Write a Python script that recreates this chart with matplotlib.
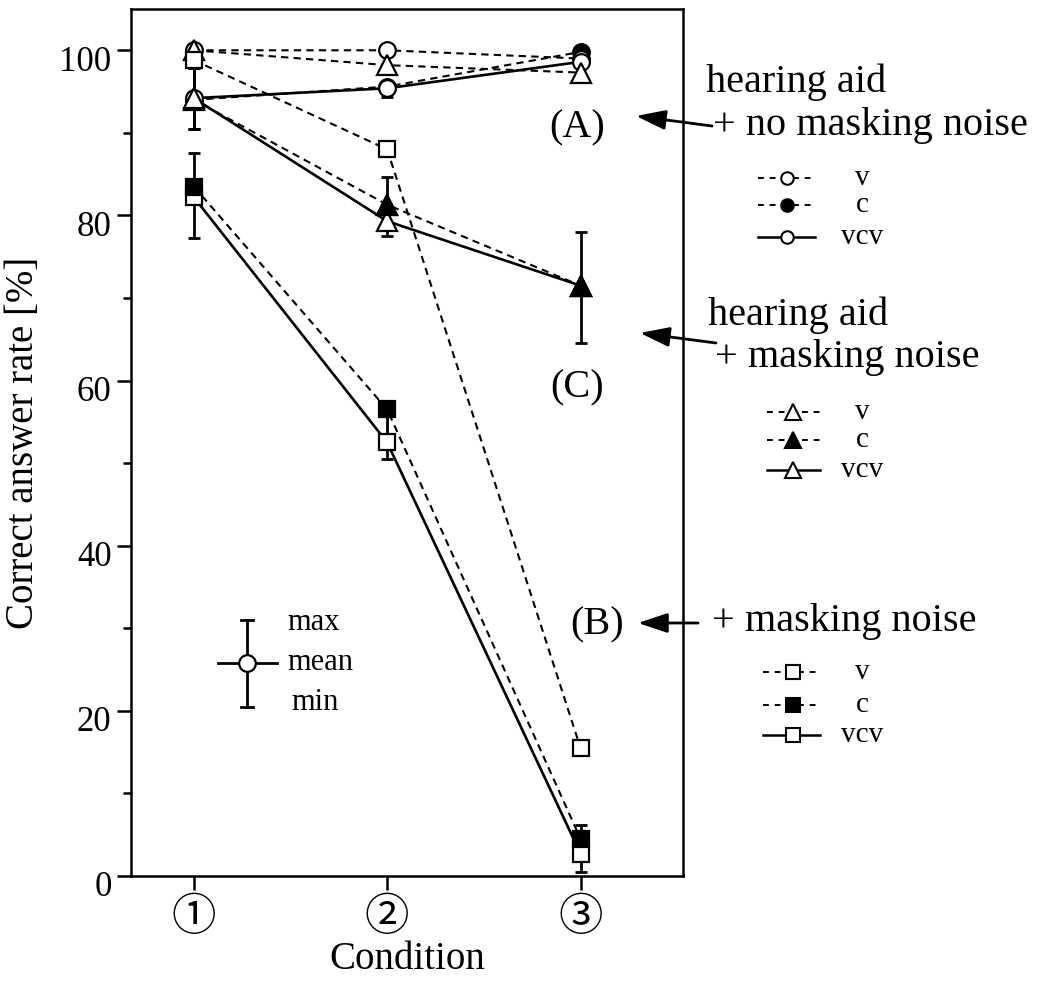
import numpy as np
import matplotlib
matplotlib.use("Agg")
import matplotlib.pyplot as plt
from matplotlib.lines import Line2D
from matplotlib.transforms import ScaledTranslation

plt.rcParams['font.family'] = ['Liberation Serif', 'DejaVu Sans', 'Noto Sans CJK JP']

conditions = [1, 2, 3]
cond_labels = ['①', '②', '③']

# (A) hearing aid + no masking noise
a_v = [100.0, 100.0, 99.0]
a_c = [94.0, 95.6, 99.8]
a_vcv = [94.2, 95.4, 98.6]
a_vcv_min = [90.5, 94.3, 98.0]
a_vcv_max = [97.8, 96.0, 99.2]

# (C) hearing aid + masking noise
c_v = [100.0, 98.2, 97.3]
c_c = [94.0, 81.3, 71.5]
c_vcv = [94.2, 79.3, 71.5]
c_vcv_min = [90.5, 77.5, 64.6]
c_vcv_max = [97.8, 84.7, 78.0]

# (B) + masking noise
b_v = [98.8, 88.0, 15.5]
b_c = [83.5, 56.5, 4.5]
b_vcv = [82.2, 52.5, 2.7]
b_vcv_min = [77.3, 50.5, 0.5]
b_vcv_max = [87.6, 57.0, 6.2]

W, H, DPI = 1047, 981, 100
fig = plt.figure(figsize=(W / DPI, H / DPI), dpi=DPI)
ax = fig.add_axes([131 / W, 1 - 876 / H, 552 / W, 867 / H])


def px(x, y):
    # figure pixel position (origin top-left) -> figure fraction
    return x / W, 1 - y / H


DASH = (3.5, 2.5)
msize = {'o': 12, '^': 15, 's': 11}

# error bars (vcv: min / max)
for mean, lo, hi in [(a_vcv, a_vcv_min, a_vcv_max),
                     (c_vcv, c_vcv_min, c_vcv_max),
                     (b_vcv, b_vcv_min, b_vcv_max)]:
    mean = np.array(mean)
    yerr = [mean - np.array(lo), np.array(hi) - mean]
    ax.errorbar(conditions, mean, yerr=yerr, fmt='none', ecolor='black',
                elinewidth=2.0, capsize=4.5, capthick=2.0, zorder=2)

# connecting lines
for vals in [a_v, a_c, c_v, c_c, b_v, b_c]:
    ax.plot(conditions, vals, color='black', lw=1.5, dashes=DASH, zorder=3)
for vals in [a_vcv, c_vcv, b_vcv]:
    ax.plot(conditions, vals, color='black', lw=1.9, zorder=3)

# markers, stacked so the filled squares/triangles sit on top where they meet
layers = [
    (a_c, 'o', 'black', None),
    (c_c, '^', 'black', None),
    (a_v, 'o', 'white', None),
    (a_vcv, 'o', 'white', None),
    (c_v, '^', 'white', None),
    (c_vcv, '^', 'white', None),
    (b_v, 's', 'white', None),
    (b_vcv, 's', 'white', None),
    (b_c, 's', 'black', None),
    (c_c, '^', 'black', [1, 2]),
]
for i, (vals, m, face, every) in enumerate(layers):
    ax.plot(conditions, vals, ls='none', marker=m, ms=msize[m], markevery=every,
            mfc=face, mec='black', mew=1.6, zorder=4 + i * 0.01)

ax.set_xlim(0.675, 3.53)
ax.set_ylim(0, 105)
ax.set_xticks(conditions)
ax.set_xticklabels(cond_labels, fontsize=32, family=['Noto Sans CJK JP', 'DejaVu Sans'])
ax.set_yticks([0, 20, 40, 60, 80, 100])
ax.set_yticks([10, 30, 50, 70, 90], minor=True)
ax.tick_params(axis='y', which='major', length=10, width=1.8, labelsize=25, pad=4)
ax.tick_params(axis='y', which='minor', length=6, width=1.8)
ax.tick_params(axis='x', which='major', length=10, width=1.8, pad=3)
for lab in ax.get_yticklabels():
    lab.set_transform(lab.get_transform() + ScaledTranslation(0, -0.08, fig.dpi_scale_trans))
for sp in ax.spines.values():
    sp.set_linewidth(1.8)

ax.set_ylabel('Correct answer rate [%]', fontsize=28)
ax.yaxis.set_label_coords(-0.162, 0.5)
ax.set_xlabel('Condition', fontsize=28, labelpad=1)

# max / mean / min key inside the plot
kx, ky = px(247, 663)
_, ktop = px(0, 620)
_, kbot = px(0, 707)
kl, _ = px(218, 0)
kr, _ = px(277, 0)
fig.add_artist(Line2D([kx, kx], [kbot, ktop], color='black', lw=2.0))
fig.add_artist(Line2D([kx - 0.006, kx + 0.006], [ktop, ktop], color='black', lw=2.0))
fig.add_artist(Line2D([kx - 0.006, kx + 0.006], [kbot, kbot], color='black', lw=2.0))
fig.add_artist(Line2D([kl, kr], [ky, ky], color='black', lw=2.0))
fig.add_artist(Line2D([kx], [ky], marker='o', ms=12, mfc='white', mec='black', mew=1.6))
for txt, (tx, ty) in [('max', (287, 622)), ('mean', (287, 663)), ('min', (291, 702))]:
    fig.text(*px(tx, ty), txt, fontsize=22, ha='left', va='center')

# group letters, captions and arrows
for txt, (tx, ty) in [('(A)', (577, 128)), ('(C)', (577, 388)), ('(B)', (597, 625))]:
    fig.text(*px(tx, ty), txt, fontsize=29, ha='center', va='center')

captions = [
    ('hearing aid', (706, 82)),
    ('+ no masking noise', (713, 126)),
    ('hearing aid', (708, 315)),
    ('+ masking noise', (715, 358)),
    ('+ masking noise', (712, 622)),
]
for txt, (tx, ty) in captions:
    fig.text(*px(tx, ty), txt, fontsize=29, ha='left', va='center')

arrows = [((712, 126), (636, 116)), ((716, 343), (640, 333)), ((698, 623), (638, 623))]
for tail, head in arrows:
    ax.annotate('', xy=px(*head), xycoords='figure fraction',
                xytext=px(*tail), textcoords='figure fraction',
                arrowprops=dict(arrowstyle='-|>,head_length=0.9,head_width=0.3',
                                mutation_scale=20, color='black', lw=2.0,
                                shrinkA=0, shrinkB=0),
                annotation_clip=False)


# legend keys for each group
def key_row(y, x0, x1, xm, marker, face, style, label):
    a, yy = px(x0, y)
    b, _ = px(x1, y)
    m, _ = px(xm, y)
    if style == 'dash':
        fig.add_artist(Line2D([a, b], [yy, yy], color='black', lw=1.4, dashes=(3, 3)))
    else:
        fig.add_artist(Line2D([a, b], [yy, yy], color='black', lw=1.8))
    ms = {'o': 9, '^': 12, 's': 10}[marker]
    fig.add_artist(Line2D([m], [yy], marker=marker, ms=ms, mfc=face, mec='black', mew=1.5))
    fig.text(*px(862, y), label, fontsize=21, ha='center', va='center')


for rows, x0, x1, xm, marker in [
        ((178, 205, 237), 758, 815, 787, 'o'),
        ((412, 440, 470), 767, 820, 793, '^'),
        ((672, 705, 735), 763, 820, 793, 's')]:
    key_row(rows[0], x0, x1, xm, marker, 'white', 'dash', 'v')
    key_row(rows[1], x0, x1, xm, marker, 'black', 'dash', 'c')
    key_row(rows[2], x0, x1, xm, marker, 'white', 'solid', 'vcv')

fig.savefig('out.png', dpi=DPI, facecolor='white')
